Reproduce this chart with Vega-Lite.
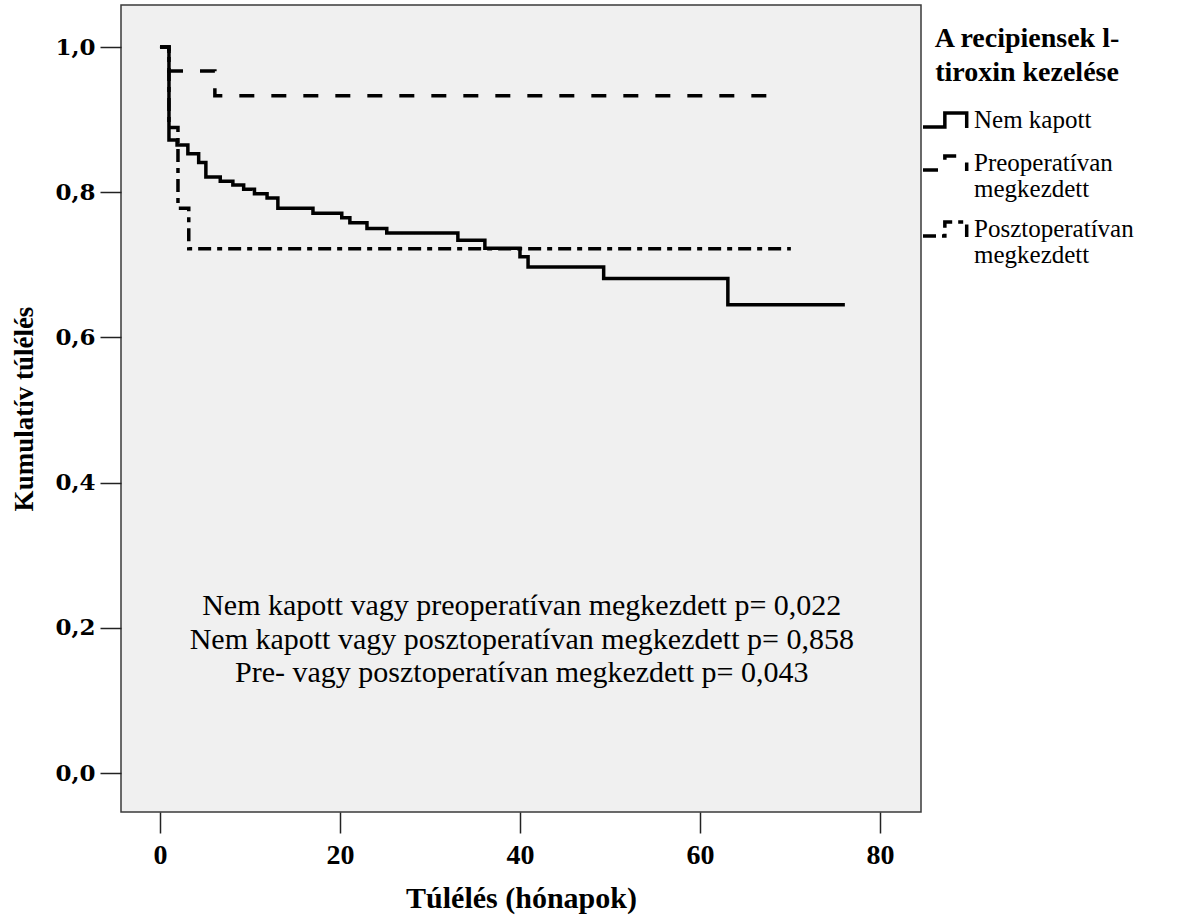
{
  "$schema": "https://vega.github.io/schema/vega-lite/v6.json",
  "width": 800,
  "height": 807,
  "padding": {"left": 121, "top": 5, "right": 260, "bottom": 107},
  "autosize": {"type": "none"},
  "background": "white",
  "config": {
    "font": "Liberation Serif",
    "view": {"fill": "#f0f0f0", "stroke": "#3a3a3a", "strokeWidth": 1.5}
  },
  "datasets": {
    "curves": [
      {"group": "Nem kapott", "t": 0, "s": 1.0},
      {"group": "Nem kapott", "t": 1.0, "s": 0.872},
      {"group": "Nem kapott", "t": 1.9, "s": 0.865},
      {"group": "Nem kapott", "t": 3.1, "s": 0.853},
      {"group": "Nem kapott", "t": 4.3, "s": 0.841},
      {"group": "Nem kapott", "t": 5.1, "s": 0.821},
      {"group": "Nem kapott", "t": 6.7, "s": 0.815},
      {"group": "Nem kapott", "t": 8.1, "s": 0.810},
      {"group": "Nem kapott", "t": 9.3, "s": 0.804},
      {"group": "Nem kapott", "t": 10.5, "s": 0.798},
      {"group": "Nem kapott", "t": 11.9, "s": 0.792},
      {"group": "Nem kapott", "t": 13.1, "s": 0.778},
      {"group": "Nem kapott", "t": 17.0, "s": 0.771},
      {"group": "Nem kapott", "t": 20.2, "s": 0.765},
      {"group": "Nem kapott", "t": 21.1, "s": 0.758},
      {"group": "Nem kapott", "t": 23.0, "s": 0.750},
      {"group": "Nem kapott", "t": 25.2, "s": 0.744},
      {"group": "Nem kapott", "t": 33.1, "s": 0.734},
      {"group": "Nem kapott", "t": 36.1, "s": 0.723},
      {"group": "Nem kapott", "t": 40.0, "s": 0.711},
      {"group": "Nem kapott", "t": 40.9, "s": 0.697},
      {"group": "Nem kapott", "t": 49.3, "s": 0.681},
      {"group": "Nem kapott", "t": 63.1, "s": 0.645},
      {"group": "Nem kapott", "t": 76.1, "s": 0.645},
      {"group": "Preoperatívan megkezdett", "t": 0, "s": 1.0},
      {"group": "Preoperatívan megkezdett", "t": 1.0, "s": 0.967},
      {"group": "Preoperatívan megkezdett", "t": 6.1, "s": 0.933},
      {"group": "Preoperatívan megkezdett", "t": 67.8, "s": 0.933},
      {"group": "Posztoperatívan megkezdett", "t": 0, "s": 1.0},
      {"group": "Posztoperatívan megkezdett", "t": 1.0, "s": 0.889},
      {"group": "Posztoperatívan megkezdett", "t": 2.0, "s": 0.778},
      {"group": "Posztoperatívan megkezdett", "t": 3.2, "s": 0.722},
      {"group": "Posztoperatívan megkezdett", "t": 70.1, "s": 0.722}
    ],
    "notes": [
      {"t": 40.2, "s": 0.230, "text": "Nem kapott vagy preoperatívan megkezdett p= 0,022"},
      {"t": 40.2, "s": 0.183, "text": "Nem kapott vagy posztoperatívan megkezdett p= 0,858"},
      {"t": 40.2, "s": 0.138, "text": "Pre- vagy posztoperatívan megkezdett p= 0,043"}
    ]
  },
  "layer": [
    {
      "data": {"name": "curves"},
      "mark": {"type": "line", "interpolate": "step-after", "stroke": "black", "strokeWidth": 3.5, "clip": true},
      "encoding": {
        "x": {
          "field": "t", "type": "quantitative",
          "scale": {"domain": [-4.33, 84.56], "nice": false, "zero": false},
          "axis": {
            "title": "Túlélés (hónapok)", "values": [0, 20, 40, 60, 80],
            "domain": false, "grid": false, "tickSize": 21, "tickColor": "#222", "tickWidth": 1.5,
            "labelFontSize": 28, "labelFontWeight": "bold", "labelColor": "black", "labelPadding": 8,
            "titleFontSize": 30, "titleFontWeight": "bold", "titleColor": "black", "titlePadding": 14
          }
        },
        "y": {
          "field": "s", "type": "quantitative",
          "scale": {"domain": [-0.0537, 1.0579], "nice": false, "zero": false},
          "axis": {
            "title": "Kumulatív túlélés", "values": [0, 0.2, 0.4, 0.6, 0.8, 1.0],
            "labelExpr": "replace(format(datum.value, '.1f'), '.', ',')",
            "domain": false, "grid": false, "tickSize": 21, "tickColor": "#222", "tickWidth": 1.5,
            "labelFont": "DejaVu Serif", "labelFontSize": 23, "labelFontWeight": "bold", "labelColor": "black", "labelPadding": 5,
            "titleFontSize": 27, "titleFontWeight": "bold", "titleColor": "black", "titlePadding": 16
          }
        },
        "detail": {"field": "group"},
        "strokeDash": {
          "field": "group", "type": "nominal",
          "scale": {
            "domain": ["Nem kapott", "Preoperatívan megkezdett", "Posztoperatívan megkezdett"],
            "range": [[1, 0], [15, 17], [13, 6, 5, 6]]
          },
          "legend": {
            "orient": "none", "legendX": 800, "legendY": 20,
            "title": ["A recipiensek l-", "tiroxin kezelése"],
            "titleFontSize": 28, "titleFontWeight": "bold", "titleColor": "black", "titlePadding": 8, "titleLineHeight": 34,
            "titleLimit": 400, "titleAnchor": "middle",
            "labelFontSize": 25, "labelColor": "black", "labelOffset": 3, "labelLimit": 400,
            "labelExpr": "datum.label == 'Nem kapott' ? datum.label : split(datum.label, ' ')",
            "symbolType": "M -1 0.3 L -0.05 0.3 L -0.05 -0.3 L 0.9 -0.3 L 0.9 0.35",
            "symbolSize": 2116, "symbolStrokeWidth": 3.5, "symbolStrokeColor": "black", "symbolFillColor": "transparent",
            "rowPadding": 2, "padding": 0,
            "encode": {"labels": {"update": {"lineHeight": {"value": 26}}}}
          }
        }
      }
    },
    {
      "data": {"name": "notes"},
      "mark": {"type": "text", "fontSize": 30, "color": "black", "align": "center", "baseline": "middle"},
      "encoding": {
        "x": {"field": "t", "type": "quantitative"},
        "y": {"field": "s", "type": "quantitative"},
        "text": {"field": "text"}
      }
    }
  ]
}
